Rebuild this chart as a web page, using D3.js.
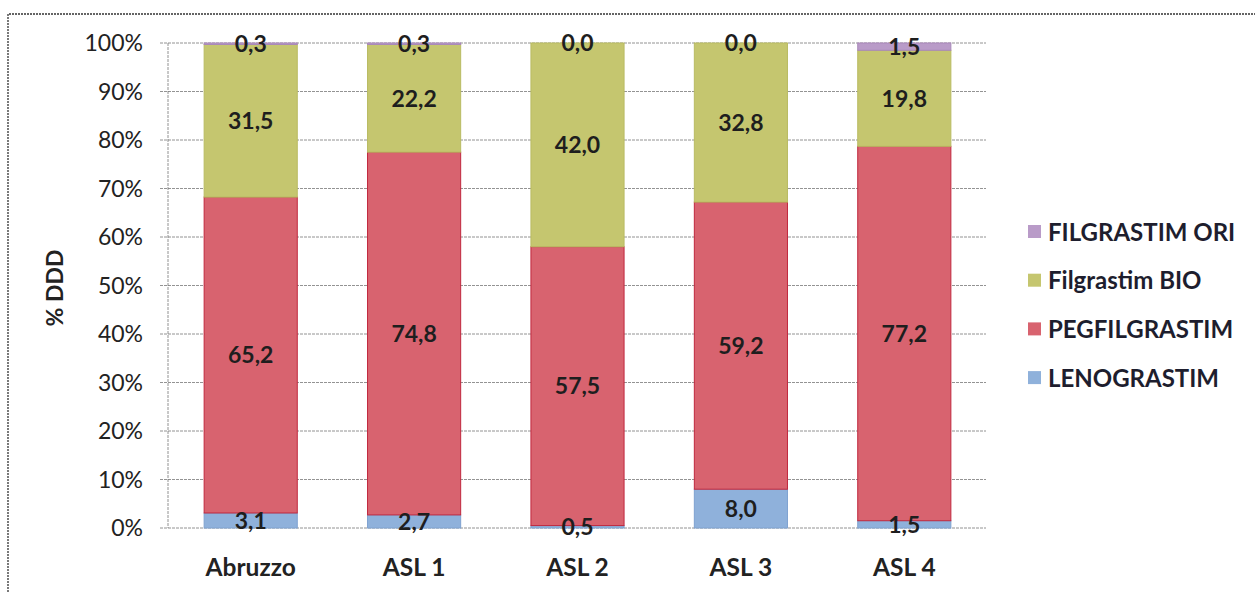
<!DOCTYPE html>
<html>
<head>
<meta charset="utf-8">
<script src="https://cdn.jsdelivr.net/npm/d3@7"></script>
<style>
  body { margin: 0; background: #fff; }
  svg { display: block; font-family: Lato, "Open Sans", sans-serif; }
</style>
</head>
<body>
<svg id="chart"></svg>
<script>
let svg = d3.select("#chart")
  .attr("width", 1255)
  .attr("height", 592);

// data
const areas = ["Abruzzo", "ASL 1", "ASL 2", "ASL 3", "ASL 4"];
const lenograstim = [3.1, 2.7, 0.5, 8.0, 1.5];
const pegfilgrastim = [65.2, 74.8, 57.5, 59.2, 77.2];
const filgrastimBio = [31.5, 22.2, 42.0, 32.8, 19.8];
const filgrastimOri = [0.3, 0.3, 0.0, 0.0, 1.5];
const yTicks = [0, 0.1, 0.2, 0.3, 0.4, 0.5, 0.6, 0.7, 0.8, 0.9, 1];

const series = [
  { key: "LENOGRASTIM", values: lenograstim, fill: "#8fb1db", stroke: "#7fa2d0" },
  { key: "PEGFILGRASTIM", values: pegfilgrastim, fill: "#d8636f", stroke: "#c0283e" },
  { key: "Filgrastim BIO", values: filgrastimBio, fill: "#c5c66f", stroke: "#b9bb62" },
  { key: "FILGRASTIM ORI", values: filgrastimOri, fill: "#b99bc8", stroke: "#a988ba" }
];

let rows = areas.map((a, i) => {
  let r = { area: a };
  series.forEach(s => r[s.key] = s.values[i]);
  return r;
});

let stacked = d3.stack()
  .keys(series.map(s => s.key))
  .offset(d3.stackOffsetExpand)(rows);

let x = d3.scaleBand()
  .domain(areas)
  .range([169, 986])
  .paddingInner(0.43)
  .paddingOuter(0.215);

let y = d3.scaleLinear()
  .domain([0, 1])
  .range([528, 43]);

// outer frame (top + left, dotted like the scan)
svg.append("path")
  .attr("d", "M8,592 L8,14 L1255,14")
  .attr("fill", "none")
  .attr("stroke", "#333")
  .attr("stroke-width", 1.3)
  .attr("stroke-dasharray", "2,1");

// gridlines
svg.append("g")
  .selectAll("line")
  .data(yTicks)
  .join("line")
    .attr("x1", 160)
    .attr("x2", 986)
    .attr("y1", d => y(d))
    .attr("y2", d => y(d))
    .attr("stroke", "#777")
    .attr("stroke-width", 0.8)
    .attr("stroke-dasharray", "3,1");

// y axis line
svg.append("line")
  .attr("x1", 168).attr("x2", 168)
  .attr("y1", y(1)).attr("y2", y(0))
  .attr("stroke", "#777")
  .attr("stroke-width", 0.8)
  .attr("stroke-dasharray", "3,1");

// tick labels
svg.append("g")
  .selectAll("text")
  .data(yTicks)
  .join("text")
    .attr("x", 143)
    .attr("y", d => y(d))
    .attr("dy", "0.36em")
    .attr("text-anchor", "end")
    .attr("font-size", 23)
    .attr("fill", "#222")
    .text(d => d3.format(".0%")(d));

// y label
svg.append("text")
  .attr("transform", "translate(55,288) rotate(-90)")
  .attr("text-anchor", "middle")
  .attr("dy", "0.36em")
  .attr("font-size", 23)
  .attr("font-weight", "bold")
  .attr("fill", "#222")
  .text("% DDD");

// bars
let layers = svg.append("g")
  .selectAll("g")
  .data(stacked)
  .join("g")
    .attr("fill", (d, i) => series[i].fill)
    .attr("stroke", (d, i) => series[i].stroke);

layers.selectAll("rect")
  .data(d => d)
  .join("rect")
    .attr("x", d => x(d.data.area))
    .attr("width", x.bandwidth())
    .attr("y", d => y(d[1]))
    .attr("height", d => y(d[0]) - y(d[1]))
    .attr("stroke-width", 1);

// value labels, centred in each segment
let labels = svg.append("g");
stacked.forEach((layer, i) => {
  labels.selectAll(null)
    .data(layer)
    .join("text")
      .attr("x", d => x(d.data.area) + x.bandwidth() / 2)
      .attr("y", d => y((d[0] + d[1]) / 2))
      .attr("dy", "0.36em")
      .attr("text-anchor", "middle")
      .attr("font-size", 23)
      .attr("font-weight", "bold")
      .attr("fill", "#1e1e1e")
      .text(d => d3.format(".1f")(d.data[layer.key]).replace(".", ","));
});

// category labels
svg.append("g")
  .selectAll("text")
  .data(areas)
  .join("text")
    .attr("x", d => x(d) + x.bandwidth() / 2)
    .attr("y", 567)
    .attr("dy", "0.36em")
    .attr("text-anchor", "middle")
    .attr("font-size", 24.5)
    .attr("font-weight", "bold")
    .attr("fill", "#222")
    .text(d => d);

// legend, top entry is the top of the stack
let legend = svg.append("g")
  .selectAll("g")
  .data(series.slice().reverse())
  .join("g")
    .attr("transform", (d, i) => `translate(1028,${232 + i * 48.7})`);

legend.append("rect")
  .attr("y", -7)
  .attr("width", 13)
  .attr("height", 13)
  .attr("fill", d => d.fill);

legend.append("text")
  .attr("x", 20)
  .attr("dy", "0.36em")
  .attr("font-size", 24)
  .attr("font-weight", "bold")
  .attr("fill", "#1e1e2e")
  .text(d => d.key);
</script>
</body>
</html>
